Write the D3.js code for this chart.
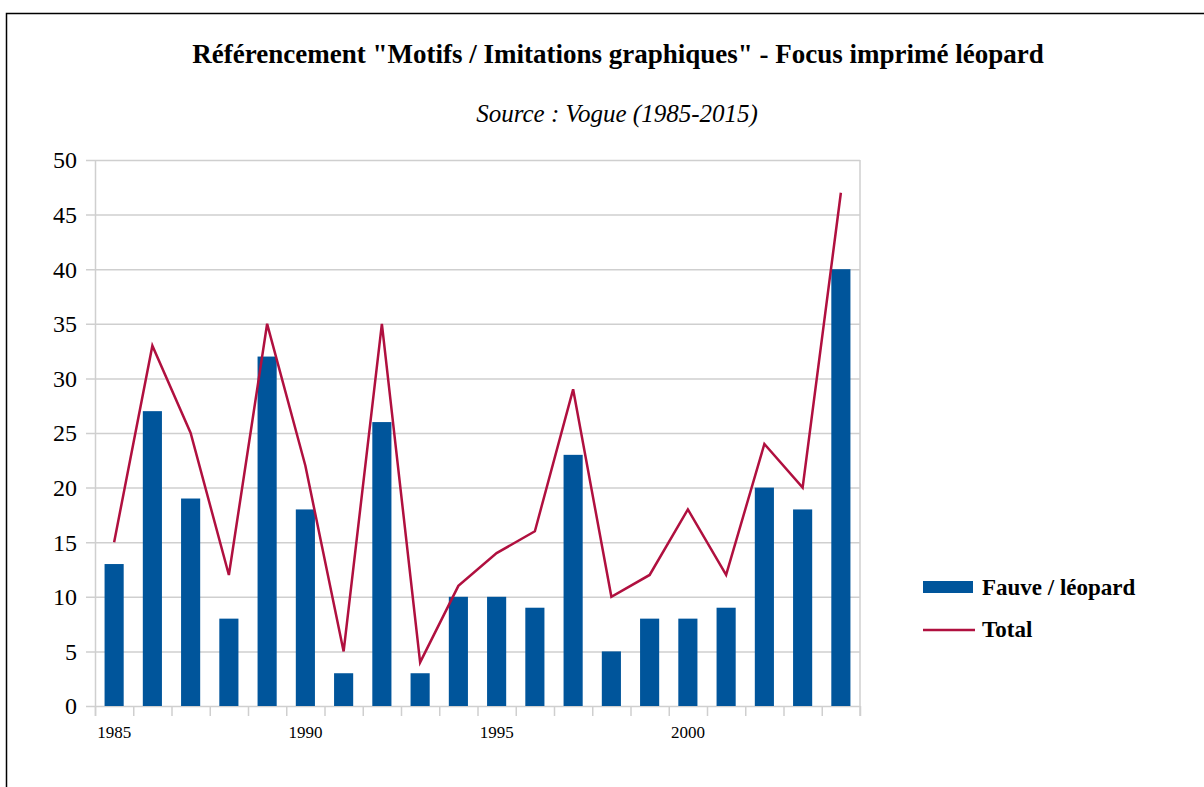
<!DOCTYPE html>
<html>
<head>
<meta charset="utf-8">
<script src="https://cdn.jsdelivr.net/npm/d3@7"></script>
<style>
  body { margin: 0; background: #fff; }
  svg { display: block; }
  text { font-family: "Liberation Serif", "Times New Roman", serif; }
</style>
</head>
<body>
<div id="vis"></div>
<script>
// data
const years = [1985, 1986, 1987, 1988, 1989, 1990, 1991, 1992, 1993, 1994,
               1995, 1996, 1997, 1998, 1999, 2000, 2001, 2002, 2003, 2004];
const fauve = [13, 27, 19, 8, 32, 18, 3, 26, 3, 10, 10, 9, 23, 5, 8, 8, 9, 20, 18, 40];
const total = [15, 33, 25, 12, 35, 22, 5, 35, 4, 11, 14, 16, 29, 10, 12, 18, 12, 24, 20, 47];
const yTicks = [0, 5, 10, 15, 20, 25, 30, 35, 40, 45, 50];
const xLabels = [1985, 1990, 1995, 2000];

const W = 1204, H = 787;
let margin = { top: 160, left: 95, right: 344, bottom: 81 },
  width = W - margin.left - margin.right,
  height = H - margin.top - margin.bottom;

let svg = d3.select('#vis')
  .append('svg')
  .attr('width', W)
  .attr('height', H);

// outer frame (top and left edges only show)
svg.append('path')
  .attr('d', `M6.5,${H} V13.5 H${W}`)
  .attr('fill', 'none')
  .attr('stroke', '#000')
  .attr('stroke-width', 1.5);

svg.append('text')
  .attr('x', 618).attr('y', 63)
  .attr('text-anchor', 'middle')
  .style('font-size', '27px').style('font-weight', 'bold')
  .text('Référencement "Motifs / Imitations graphiques" - Focus imprimé léopard');

svg.append('text')
  .attr('x', 617).attr('y', 122)
  .attr('text-anchor', 'middle')
  .style('font-size', '25px').style('font-style', 'italic')
  .text('Source : Vogue (1985-2015)');

let g = svg.append('g').attr('transform', `translate(${margin.left},${margin.top})`);

let x = d3.scaleBand().domain(years).range([0, width]).paddingInner(0.5).paddingOuter(0.25);
let xb = d3.scaleBand().domain(years).range([0, width]);
let y = d3.scaleLinear().domain([0, 50]).range([height, 0]);

// gridlines + y ticks
g.selectAll('.grid').data(yTicks).join('line')
  .attr('x1', -9).attr('x2', width)
  .attr('y1', d => y(d) + 0.5).attr('y2', d => y(d) + 0.5)
  .attr('stroke', '#cfcfcf').attr('stroke-width', 1.5);

g.selectAll('.ylab').data(yTicks).join('text')
  .attr('x', -18).attr('y', d => y(d))
  .attr('dy', '0.35em')
  .attr('text-anchor', 'end')
  .style('font-size', '24px')
  .text(d => d);

// plot area sides
g.append('line').attr('x1', 0.5).attr('x2', 0.5).attr('y1', 0).attr('y2', height + 10)
  .attr('stroke', '#cfcfcf').attr('stroke-width', 1.5);
g.append('line').attr('x1', width).attr('x2', width).attr('y1', 0).attr('y2', height + 10)
  .attr('stroke', '#cfcfcf').attr('stroke-width', 1.5);

// x ticks at band edges
let edges = years.map(d => xb(d)).concat([width]);
g.selectAll('.xt').data(edges).join('line')
  .attr('x1', d => d + 0.5).attr('x2', d => d + 0.5)
  .attr('y1', height).attr('y2', height + 10)
  .attr('stroke', '#cfcfcf').attr('stroke-width', 1.5);

g.selectAll('.xlab').data(xLabels).join('text')
  .attr('x', d => xb(d) + xb.bandwidth() / 2)
  .attr('y', height + 32)
  .attr('text-anchor', 'middle')
  .style('font-size', '17px')
  .text(d => d);

// bars
g.selectAll('.bar').data(fauve).join('rect')
  .attr('x', (d, i) => x(years[i]))
  .attr('y', d => y(d))
  .attr('width', x.bandwidth())
  .attr('height', d => height - y(d))
  .attr('fill', '#00559b');

// total line
let line = d3.line()
  .x((d, i) => xb(years[i]) + xb.bandwidth() / 2)
  .y(d => y(d));
g.append('path').datum(total)
  .attr('d', line)
  .attr('fill', 'none')
  .attr('stroke', '#b0103f')
  .attr('stroke-width', 2.5);

// legend
let leg = svg.append('g');
leg.append('rect').attr('x', 923).attr('y', 581).attr('width', 50).attr('height', 12).attr('fill', '#00559b');
leg.append('text').attr('x', 982).attr('y', 595)
  .style('font-size', '23px').style('font-weight', 'bold').text('Fauve / léopard');
leg.append('line').attr('x1', 923).attr('x2', 975).attr('y1', 630).attr('y2', 630)
  .attr('stroke', '#b0103f').attr('stroke-width', 2.5);
leg.append('text').attr('x', 982).attr('y', 637)
  .style('font-size', '23px').style('font-weight', 'bold').text('Total');
</script>
</body>
</html>
